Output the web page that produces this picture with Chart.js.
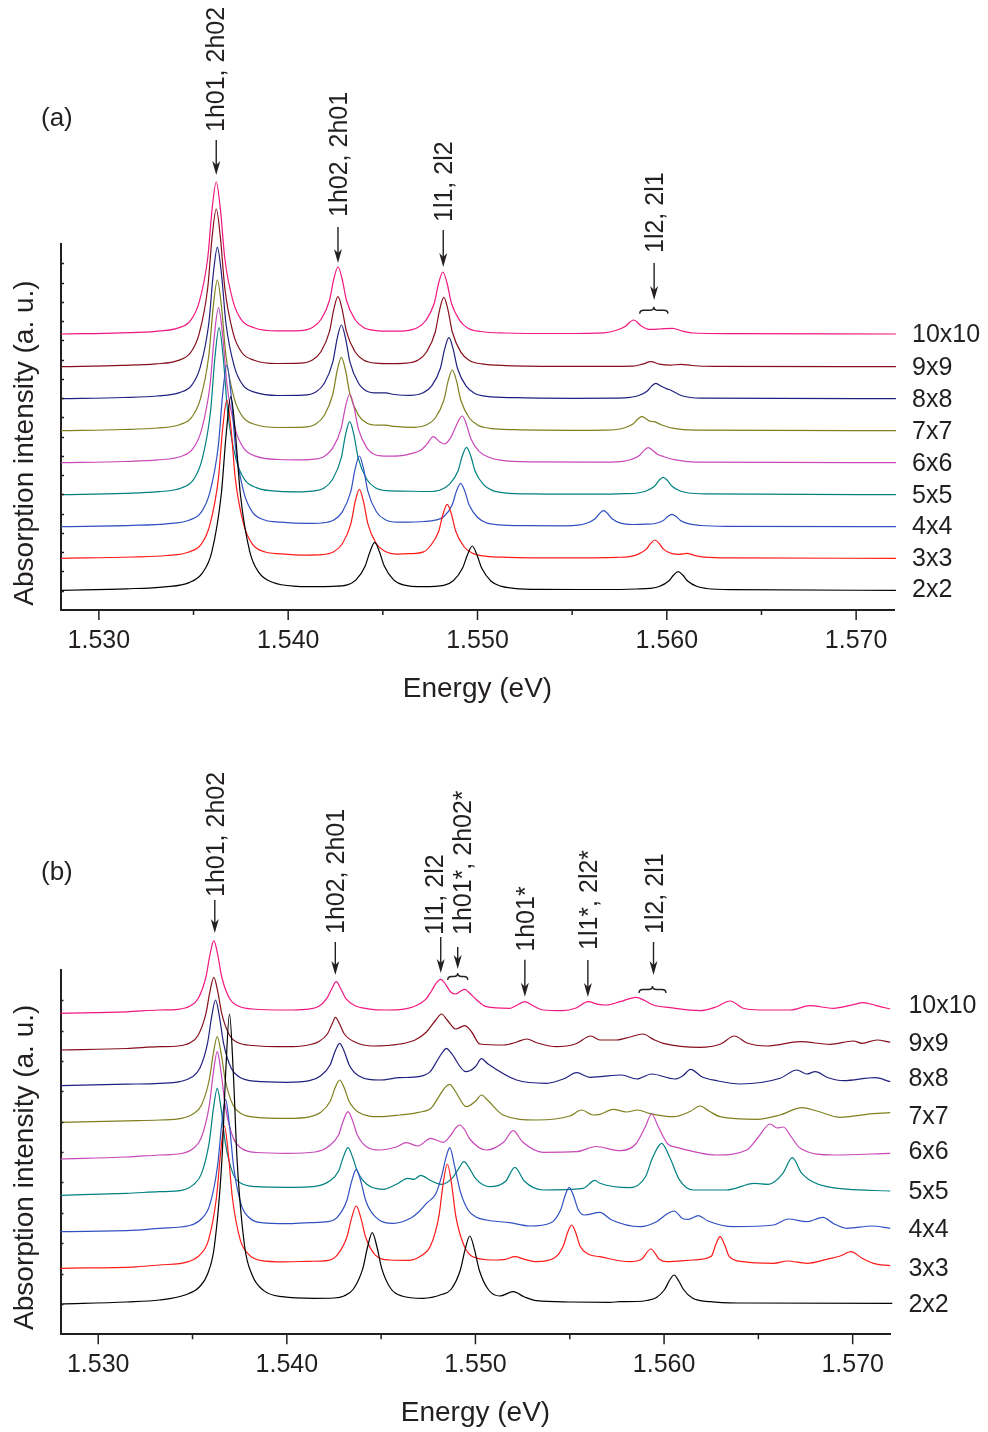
<!DOCTYPE html>
<html>
<head>
<meta charset="utf-8">
<script src="https://cdn.jsdelivr.net/npm/chart.js@4.4.0/dist/chart.umd.min.js"></script>
<style>
  html, body { margin: 0; padding: 0; background: #fff; }
  #wrap { position: relative; width: 988px; height: 1432px; }
  canvas { position: absolute; left: 0; }
</style>
</head>
<body>
<div id="wrap">
  <canvas id="chartA" width="988" height="720" style="top:0px"></canvas>
  <canvas id="chartB" width="988" height="712" style="top:720px"></canvas>
</div>
<script>
// cluster sizes, bottom to top
const sizes = ['2x2', '3x3', '4x4', '5x5', '6x6', '7x7', '8x8', '9x9', '10x10'];
const colors = ['#000000', '#ff1a1a', '#3050c0', '#008080', '#c848b8', '#7f7f20', '#20207f', '#85101c', '#f01880'];

const xTicks = [1.530, 1.540, 1.550, 1.560, 1.570];
const xMinorTicks = [1.535, 1.545, 1.555, 1.565];

// vertical offsets of the stacked spectra (a.u.)
const offsetsA = [19.7, 51.7, 83.3, 115.3, 147.3, 179.3, 211.3, 243.3, 276];
const offsetsB = [30.3, 66, 102.6, 139, 175.3, 212, 248.6, 284.3, 321];

// panel (a): [energy eV, intensity a.u.]
const a2x2 = [[1.52800,0],[1.53147,1.5],[1.53347,3.5],[1.53477,7.7],[1.53547,17.4],[1.53597,38.7],[1.53647,96.8],[1.53672,155],[1.53697,193.6],[1.53722,155],[1.53747,96.8],[1.53797,38.7],[1.53847,17.4],[1.53917,8],[1.54047,4],[1.54150,3.6],[1.54237,4],[1.54307,5.2],[1.54357,10.2],[1.54407,24.4],[1.54432,38.6],[1.54457,48],[1.54482,38.6],[1.54507,24.5],[1.54557,10.5],[1.54607,5.5],[1.54715,3.6],[1.54822,5],[1.54872,9.5],[1.54922,22.5],[1.54947,35.5],[1.54972,44.3],[1.54997,35.5],[1.55022,22.2],[1.55072,9],[1.55122,4.2],[1.55192,2],[1.55320,0.9],[1.55650,0.8],[1.55840,1.3],[1.55910,1.9],[1.55960,3.8],[1.56010,9.3],[1.56035,15],[1.56060,18.6],[1.56085,15],[1.56110,9.3],[1.56160,3.8],[1.56210,1.8],[1.56350,0.6],[1.57210,0]];
const a3x3 = [[1.52800,0],[1.53176,1.3],[1.53356,2.8],[1.53476,6.3],[1.53541,14.2],[1.53586,33.2],[1.53631,79.2],[1.53654,129.8],[1.53676,158.3],[1.53698,129.8],[1.53721,79.2],[1.53766,33.2],[1.53811,14.2],[1.53876,6.5],[1.53960,4.5],[1.54100,3.2],[1.54176,3.6],[1.54241,6.6],[1.54286,14.5],[1.54331,34.5],[1.54354,56.6],[1.54376,69],[1.54398,56.6],[1.54421,34.5],[1.54466,14.5],[1.54511,7],[1.54576,4.2],[1.54640,4.6],[1.54715,6.4],[1.54750,12.3],[1.54795,27],[1.54818,44.3],[1.54840,54],[1.54862,44.3],[1.54885,27],[1.54930,11.3],[1.54975,4.9],[1.55040,2.2],[1.55160,1],[1.55450,0.5],[1.55737,1],[1.55802,1.7],[1.55847,3.9],[1.55892,9.2],[1.55915,15],[1.55937,18.3],[1.55959,15],[1.55982,9.2],[1.56027,4.6],[1.56065,4],[1.56106,5],[1.56145,3],[1.56200,1.2],[1.56350,0.4],[1.57210,0]];
const a4x4 = [[1.52800,0],[1.53176,1.3],[1.53356,2.9],[1.53476,6.5],[1.53541,14.6],[1.53586,34],[1.53631,80.9],[1.53654,132.6],[1.53676,161.7],[1.53698,132.6],[1.53721,80.9],[1.53766,34],[1.53811,14.6],[1.53876,6.7],[1.53960,4.6],[1.54100,3.3],[1.54176,3.7],[1.54241,6.7],[1.54286,14.8],[1.54331,35.4],[1.54354,58],[1.54376,70.7],[1.54398,58],[1.54421,35.4],[1.54466,15],[1.54511,7.2],[1.54576,4.5],[1.54640,4.6],[1.54715,5.2],[1.54776,6.5],[1.54821,10],[1.54866,21.7],[1.54889,35.6],[1.54911,43.4],[1.54933,35.6],[1.54956,21.7],[1.55001,9.2],[1.55046,4],[1.55111,1.9],[1.55250,1],[1.55466,0.9],[1.55531,1.6],[1.55576,3.4],[1.55621,8],[1.55644,13],[1.55666,16],[1.55688,13],[1.55711,8],[1.55756,3.6],[1.55820,2.2],[1.55890,2.5],[1.55937,3.2],[1.55982,6.3],[1.56005,10.2],[1.56027,12.4],[1.56049,10.2],[1.56072,6.3],[1.56117,2.8],[1.56180,1.2],[1.56330,0.4],[1.57210,0]];
const a5x5 = [[1.52800,0],[1.53135,1.3],[1.53315,3],[1.53435,6.7],[1.53500,15],[1.53545,35],[1.53590,83.5],[1.53613,137],[1.53635,167],[1.53657,137],[1.53680,83.5],[1.53725,35],[1.53770,15],[1.53835,6.8],[1.53955,3.3],[1.54050,2.9],[1.54125,3.6],[1.54190,6.8],[1.54235,15.5],[1.54280,36.5],[1.54303,60],[1.54325,73],[1.54347,60],[1.54370,36.5],[1.54415,15.5],[1.54460,7],[1.54525,4],[1.54600,3.6],[1.54742,3.2],[1.54807,5],[1.54852,10.5],[1.54897,23.7],[1.54920,38.9],[1.54942,47.4],[1.54964,38.9],[1.54987,23.7],[1.55032,10],[1.55077,4.3],[1.55142,1.9],[1.55300,0.8],[1.55600,0.5],[1.55781,1],[1.55846,1.7],[1.55891,3.7],[1.55936,8.7],[1.55959,14.3],[1.55981,17.4],[1.56003,14.3],[1.56026,8.7],[1.56071,3.7],[1.56116,1.7],[1.56200,0.8],[1.57210,0]];
const a6x6 = [[1.52800,0],[1.53132,1.2],[1.53312,2.8],[1.53432,6.2],[1.53497,14],[1.53542,32.6],[1.53587,77.5],[1.53610,127],[1.53632,155],[1.53654,127],[1.53677,77.5],[1.53722,32.6],[1.53767,14],[1.53832,6.3],[1.53952,3.2],[1.54050,2.9],[1.54125,3.4],[1.54190,6.3],[1.54235,14.6],[1.54280,34.4],[1.54303,56.3],[1.54325,68.7],[1.54347,56.3],[1.54370,34.4],[1.54415,15],[1.54460,8],[1.54530,6.5],[1.54600,7],[1.54650,9],[1.54700,12.5],[1.54735,19],[1.54766,26],[1.54800,21],[1.54825,18.7],[1.54855,24],[1.54885,36],[1.54902,43],[1.54920,46.7],[1.54942,38],[1.54965,24],[1.55010,11],[1.55060,5.5],[1.55120,2.5],[1.55300,0.8],[1.55700,0.5],[1.55767,1.3],[1.55812,3.2],[1.55857,7.5],[1.55880,12.3],[1.55902,15],[1.55925,12.5],[1.55950,8.5],[1.55985,6],[1.56040,3],[1.56150,0.6],[1.57210,0]];
const a7x7 = [[1.52800,0],[1.53126,1.2],[1.53306,2.7],[1.53426,6],[1.53491,13.6],[1.53536,31.6],[1.53581,75.4],[1.53604,123.6],[1.53626,150.7],[1.53648,123.6],[1.53671,75.4],[1.53716,31.6],[1.53761,13.6],[1.53826,6.2],[1.53946,3.2],[1.54081,3.6],[1.54146,6.8],[1.54191,15.4],[1.54236,36.7],[1.54259,60.2],[1.54281,73.4],[1.54303,60.2],[1.54326,36.7],[1.54371,15.6],[1.54416,7.5],[1.54470,5.6],[1.54514,5.6],[1.54560,4.3],[1.54667,3.3],[1.54732,5.9],[1.54777,12.7],[1.54822,30.4],[1.54845,49.8],[1.54867,60.7],[1.54889,49.8],[1.54912,30.4],[1.54957,12.7],[1.55002,5.5],[1.55067,2.4],[1.55200,1],[1.55500,0.4],[1.55670,0.6],[1.55733,1.2],[1.55778,2.9],[1.55823,7],[1.55846,11.5],[1.55868,14],[1.55890,12],[1.55910,9.5],[1.55932,9],[1.55970,6],[1.56030,2.5],[1.56150,0.5],[1.57210,0]];
const a8x8 = [[1.52800,0],[1.53126,1.2],[1.53306,2.7],[1.53426,6.1],[1.53491,13.6],[1.53536,31.8],[1.53581,75.7],[1.53604,124.1],[1.53626,151.4],[1.53648,124.1],[1.53671,75.7],[1.53716,31.8],[1.53761,13.6],[1.53826,6.3],[1.53946,3.2],[1.54081,3.6],[1.54146,6.8],[1.54191,15.5],[1.54236,36.9],[1.54259,60.4],[1.54281,73.7],[1.54303,60.4],[1.54326,36.9],[1.54371,15.7],[1.54416,7.5],[1.54470,5.8],[1.54514,5.8],[1.54560,4.2],[1.54649,3.3],[1.54714,6],[1.54759,13],[1.54804,30.5],[1.54827,50],[1.54849,61],[1.54871,50],[1.54894,30.5],[1.54939,12.8],[1.54984,5.5],[1.55049,2.4],[1.55200,1],[1.55500,0.4],[1.55740,0.6],[1.55807,1.4],[1.55852,3.2],[1.55897,7.7],[1.55920,12.6],[1.55942,15.4],[1.55970,12.5],[1.56000,9.8],[1.56021,8.5],[1.56080,3],[1.56180,0.6],[1.57210,0]];
const a9x9 = [[1.52800,0],[1.53120,1.3],[1.53300,2.8],[1.53420,6.3],[1.53485,14.2],[1.53530,33.1],[1.53575,78.9],[1.53598,129.3],[1.53620,157.7],[1.53642,129.3],[1.53665,78.9],[1.53710,33.1],[1.53755,14.2],[1.53820,6.5],[1.53940,3.2],[1.54063,3.6],[1.54128,6.8],[1.54173,15],[1.54218,35],[1.54241,57.4],[1.54263,70],[1.54285,57.4],[1.54308,35],[1.54353,15],[1.54398,6.8],[1.54463,3.5],[1.54540,3],[1.54622,3.5],[1.54687,6.8],[1.54732,15],[1.54777,34.7],[1.54800,56.9],[1.54822,69.4],[1.54844,56.9],[1.54867,34.7],[1.54912,14.6],[1.54957,6.2],[1.55022,2.8],[1.55150,1.1],[1.55500,0.3],[1.55820,0.6],[1.55871,2.5],[1.55916,5],[1.55961,2.5],[1.56020,1.5],[1.56075,2.4],[1.56130,1.2],[1.56250,0.3],[1.57210,0]];
const a10x10 = [[1.52800,0],[1.53120,1.2],[1.53300,2.7],[1.53420,6.1],[1.53485,13.7],[1.53530,31.9],[1.53575,76],[1.53598,124.6],[1.53620,152],[1.53642,124.6],[1.53665,76],[1.53710,31.9],[1.53755,13.7],[1.53820,6.3],[1.53940,3.1],[1.54063,3.4],[1.54128,6.5],[1.54173,14.5],[1.54218,33.5],[1.54241,55],[1.54263,67],[1.54285,55],[1.54308,33.5],[1.54353,14.5],[1.54398,6.5],[1.54463,3.4],[1.54540,2.8],[1.54617,3.2],[1.54682,6.2],[1.54727,13.5],[1.54772,31],[1.54795,51],[1.54817,62],[1.54839,51],[1.54862,31],[1.54907,13.2],[1.54952,5.6],[1.55017,2.5],[1.55140,1],[1.55450,0.5],[1.55670,1.2],[1.55730,3.5],[1.55780,7.5],[1.55824,14],[1.55865,8],[1.55905,4.7],[1.55960,5],[1.56031,5.7],[1.56080,3],[1.56140,1],[1.56350,0.3],[1.57210,0]];

// panel (b): [energy eV, intensity a.u.]
const b2x2 = [[1.52800,0],[1.53150,2],[1.53324,4],[1.53460,9],[1.53536,17],[1.53580,30],[1.53616,58],[1.53656,145],[1.53676,232],[1.53696,290],[1.53716,232],[1.53736,145],[1.53776,58],[1.53816,29],[1.53876,13.6],[1.53976,7.3],[1.54146,5.7],[1.54250,6],[1.54303,8],[1.54353,15],[1.54403,35.7],[1.54428,57],[1.54453,71.3],[1.54478,57],[1.54503,35.7],[1.54553,15],[1.54610,8],[1.54722,5.7],[1.54820,9.5],[1.54870,14.5],[1.54920,34],[1.54945,54.4],[1.54970,68],[1.54995,54.4],[1.55020,34],[1.55070,14],[1.55129,8],[1.55200,12.3],[1.55260,7],[1.55324,3.3],[1.55500,2],[1.55713,1.7],[1.55766,2.3],[1.55850,2.5],[1.55910,3.5],[1.55960,6.5],[1.56003,14.5],[1.56030,24],[1.56053,29],[1.56078,23],[1.56103,14.5],[1.56150,6],[1.56244,2.3],[1.56400,1],[1.57210,0.7]];
const b3x3 = [[1.52800,0],[1.53200,1.5],[1.53324,3.3],[1.53479,6.7],[1.53543,14.2],[1.53585,28.5],[1.53627,71],[1.53648,114],[1.53669,142.3],[1.53690,114],[1.53711,71],[1.53753,28.5],[1.53795,14.5],[1.53859,8],[1.53990,6.5],[1.54120,7],[1.54220,8],[1.54268,13.5],[1.54318,31],[1.54343,50],[1.54368,62.3],[1.54393,50],[1.54418,31],[1.54468,13.5],[1.54545,8.3],[1.54650,8],[1.54716,13],[1.54761,22],[1.54806,52],[1.54829,85],[1.54851,104.3],[1.54873,85],[1.54896,52],[1.54941,22],[1.54986,11.5],[1.55093,8.3],[1.55160,9],[1.55209,11.6],[1.55260,9],[1.55324,6.6],[1.55420,10.5],[1.55465,22],[1.55488,35.5],[1.55510,43.3],[1.55532,35.5],[1.55555,22],[1.55600,14],[1.55660,11.6],[1.55819,6.6],[1.55880,9],[1.55930,19.3],[1.55975,9],[1.56014,6.6],[1.56155,8.3],[1.56250,12],[1.56275,24],[1.56297,31.6],[1.56320,24],[1.56345,12],[1.56420,6.6],[1.56580,5],[1.56656,7.3],[1.56757,5],[1.56863,9],[1.56930,12],[1.56992,16.6],[1.57050,10],[1.57110,5],[1.57199,2.6]];
const b4x4 = [[1.52800,0],[1.53200,1.5],[1.53324,3.4],[1.53485,6.2],[1.53549,13.2],[1.53591,26.5],[1.53633,66.2],[1.53654,106],[1.53675,132.4],[1.53696,106],[1.53717,66.2],[1.53759,26.5],[1.53801,14],[1.53865,9],[1.54000,8],[1.54120,9],[1.54220,10],[1.54268,14.5],[1.54318,31.2],[1.54343,50],[1.54368,62.4],[1.54393,50],[1.54418,31.2],[1.54468,15],[1.54563,8.4],[1.54660,14],[1.54700,20],[1.54740,28.4],[1.54790,38],[1.54820,55],[1.54845,75],[1.54864,84],[1.54890,65],[1.54920,40],[1.54960,22],[1.55000,15],[1.55058,11.7],[1.55182,9],[1.55288,5.7],[1.55400,9],[1.55452,22],[1.55475,36],[1.55497,44.4],[1.55520,36],[1.55545,22],[1.55580,16.7],[1.55660,19.4],[1.55720,12],[1.55872,5],[1.55960,10],[1.56010,17],[1.56053,20.7],[1.56100,13],[1.56128,12.4],[1.56182,16],[1.56230,11],[1.56367,5],[1.56580,6.7],[1.56659,12.7],[1.56757,10],[1.56842,14.4],[1.56900,8],[1.56969,3.4],[1.57102,5.7],[1.57199,3.4]];
const b5x5 = [[1.52800,0],[1.53150,2],[1.53324,3.6],[1.53441,5],[1.53505,10.7],[1.53547,21.4],[1.53589,53.5],[1.53610,85.6],[1.53631,107],[1.53652,85.6],[1.53673,53.5],[1.53715,21.4],[1.53757,12],[1.53840,8.6],[1.54000,8],[1.54150,9],[1.54224,14],[1.54274,24],[1.54299,38],[1.54324,47.6],[1.54349,38],[1.54374,24],[1.54424,11],[1.54510,6],[1.54580,11],[1.54642,17],[1.54676,16],[1.54710,20],[1.54760,15],[1.54820,11],[1.54880,18],[1.54915,28],[1.54939,33.6],[1.54965,28],[1.55000,17],[1.55076,8.6],[1.55160,14],[1.55209,28],[1.55260,14],[1.55359,5.3],[1.55571,7],[1.55633,15],[1.55660,12],[1.55819,7.6],[1.55900,18],[1.55940,38],[1.55987,52],[1.56030,38],[1.56080,16],[1.56155,5.3],[1.56332,5.3],[1.56479,12],[1.56553,11],[1.56630,22],[1.56680,37.6],[1.56730,22],[1.56863,8.6],[1.57199,4.3]];
const b6x6 = [[1.52800,0],[1.53150,2],[1.53324,4],[1.53441,5.5],[1.53505,10.7],[1.53547,21.5],[1.53589,53.7],[1.53610,85.8],[1.53631,107.3],[1.53652,85.8],[1.53673,53.7],[1.53715,21.5],[1.53757,11],[1.53840,6.5],[1.54000,5.7],[1.54150,7],[1.54224,13],[1.54274,24],[1.54299,38],[1.54324,47.3],[1.54349,38],[1.54374,24],[1.54424,12],[1.54492,9],[1.54580,12],[1.54634,16.3],[1.54695,13],[1.54763,20.7],[1.54828,16.7],[1.54870,24],[1.54895,31],[1.54917,34],[1.54940,30],[1.54970,20],[1.55058,9],[1.55150,17],[1.55200,28.3],[1.55250,17],[1.55359,6.7],[1.55536,7.3],[1.55640,12.5],[1.55766,8.3],[1.55850,15],[1.55900,32],[1.55934,45],[1.55970,32],[1.56020,15],[1.56067,11.7],[1.56279,4],[1.56438,9],[1.56500,22],[1.56562,35],[1.56600,31],[1.56633,32],[1.56675,22],[1.56722,10.7],[1.56898,4],[1.57199,5.7]];
const b7x7 = [[1.52800,0],[1.53150,1.5],[1.53324,2.3],[1.53441,4],[1.53505,8.6],[1.53547,17.1],[1.53589,42.8],[1.53610,68.5],[1.53631,85.6],[1.53652,68.5],[1.53673,42.8],[1.53715,17.1],[1.53757,8.8],[1.53840,5],[1.54000,4],[1.54120,5.5],[1.54180,10],[1.54230,21],[1.54255,34],[1.54280,42.3],[1.54305,34],[1.54330,21],[1.54380,10],[1.54492,5.6],[1.54598,7.3],[1.54700,10],[1.54764,14],[1.54810,27],[1.54839,35],[1.54864,38],[1.54890,32],[1.54952,15.6],[1.55000,21],[1.55032,27.3],[1.55065,22],[1.55146,7.3],[1.55324,2.3],[1.55500,6.3],[1.55563,12.3],[1.55624,7.3],[1.55660,8],[1.55730,13],[1.55801,10.3],[1.55860,12.3],[1.55920,9],[1.56049,5.6],[1.56140,11],[1.56190,16.3],[1.56240,11],[1.56297,5.6],[1.56492,3],[1.56615,7.3],[1.56730,14.6],[1.56810,11.3],[1.56934,5],[1.57075,8],[1.57199,9.6]];
const b8x8 = [[1.52800,0],[1.53150,1.5],[1.53324,2.4],[1.53432,4],[1.53496,8.6],[1.53538,17.1],[1.53580,42.9],[1.53601,68.6],[1.53622,85.7],[1.53643,68.6],[1.53664,42.9],[1.53706,17.1],[1.53748,8.8],[1.53830,4.5],[1.54000,3.4],[1.54120,5],[1.54180,10],[1.54230,21],[1.54255,34],[1.54280,42.4],[1.54305,34],[1.54330,21],[1.54380,10],[1.54492,5.7],[1.54598,8],[1.54700,9],[1.54760,14],[1.54800,26],[1.54824,33],[1.54846,37.4],[1.54870,33],[1.54949,14],[1.55000,19],[1.55032,27],[1.55065,22],[1.55218,5.7],[1.55377,2.4],[1.55470,7],[1.55536,13],[1.55607,8.4],[1.55660,9],[1.55775,10.7],[1.55855,6.7],[1.55934,11.7],[1.56058,6.7],[1.56100,10],[1.56141,16.4],[1.56200,9],[1.56279,5],[1.56403,1.7],[1.56615,7.4],[1.56704,15.7],[1.56757,11.7],[1.56801,14],[1.56870,8],[1.56951,5],[1.57119,8],[1.57199,4]];
const b9x9 = [[1.52800,0],[1.53150,1.5],[1.53324,3.3],[1.53423,4],[1.53487,7.3],[1.53529,14.5],[1.53571,36.4],[1.53592,58.2],[1.53613,72.7],[1.53634,58.2],[1.53655,36.4],[1.53697,14.5],[1.53739,7.5],[1.53820,4.5],[1.54000,3.3],[1.54100,4.5],[1.54170,8.5],[1.54215,16],[1.54240,26],[1.54258,32.7],[1.54280,26],[1.54305,16],[1.54360,8],[1.54459,4],[1.54600,6],[1.54680,10],[1.54740,18],[1.54790,30],[1.54820,36],[1.54850,30],[1.54895,21],[1.54943,24.3],[1.54980,18],[1.55023,6],[1.55150,5],[1.55220,8],[1.55271,11],[1.55330,7],[1.55430,3.3],[1.55530,6],[1.55612,14],[1.55660,10],[1.55748,10],[1.55820,13],[1.55886,16],[1.55950,10],[1.55996,6.7],[1.56190,2.7],[1.56300,6],[1.56373,14],[1.56440,7],[1.56545,4],[1.56722,8.3],[1.56881,5.7],[1.57003,9],[1.57050,6.7],[1.57128,10],[1.57199,7.7]];
const b10x10 = [[1.52800,0],[1.53150,1.5],[1.53324,3.3],[1.53423,4],[1.53487,7.3],[1.53529,14.5],[1.53571,36.3],[1.53592,58.1],[1.53613,72.6],[1.53634,58.1],[1.53655,36.3],[1.53697,14.5],[1.53739,7.5],[1.53820,4.3],[1.54000,3.3],[1.54100,4],[1.54170,7],[1.54212,15],[1.54237,24],[1.54262,31.6],[1.54287,24],[1.54312,15],[1.54362,7.5],[1.54430,4.5],[1.54525,3.3],[1.54630,4.5],[1.54690,8],[1.54736,14],[1.54766,22],[1.54791,30],[1.54816,34],[1.54845,28],[1.54870,21],[1.54895,19.3],[1.54920,22],[1.54943,24],[1.54970,20],[1.55000,14.5],[1.55058,6.6],[1.55182,5],[1.55210,7],[1.55262,11.6],[1.55310,7],[1.55359,3.3],[1.55463,2.6],[1.55530,5],[1.55598,11.6],[1.55650,9],[1.55695,8.3],[1.55766,11.6],[1.55851,16],[1.55900,12.5],[1.55943,8.3],[1.56031,5.6],[1.56190,2.6],[1.56279,6.6],[1.56350,12.3],[1.56420,5],[1.56509,3.3],[1.56668,3.3],[1.56774,7.6],[1.56898,5],[1.57000,8.5],[1.57057,10.6],[1.57120,8],[1.57199,4.3]];

// peak assignments (arrow tip energy and height in a.u.)
const annoTextA = ['1h01, 2h02', '1h02, 2h01', '1l1, 2l2', '1l2, 2l1'];
const annoEnergyA = [1.53620, 1.54263, 1.54819, 1.55933];
const annoTipA = [435, 347, 343, 310];
const braceFromA = [1.55857], braceToA = [1.56006], braceTopA = [303.3];

const annoTextB = ['1h01, 2h02', '1h02, 2h01', '1l1, 2l2', '1h01*, 2h02*', '1h01*', '1l1*, 2l2*', '1l2, 2l1'];
const annoEnergyB = [1.53618, 1.54257, 1.54816, 1.54906, 1.55262, 1.55596, 1.55944];
const annoTipB = [401.3, 359.3, 361.3, 365.3, 337.6, 337.3, 359.3];
const braceFromB = [1.54853, 1.55867], braceToB = [1.54959, 1.56010], braceTopB = [361.3, 348.3];

const INK = '#231f20';
const FONT = '"Liberation Sans", Arial, Helvetica, sans-serif';
Chart.defaults.font.family = FONT;
Chart.defaults.color = INK;

function arrow(ctx, x, yTail, yTip) {
  ctx.beginPath();
  ctx.moveTo(x, yTail);
  ctx.lineTo(x, yTip - 9);
  ctx.stroke();
  ctx.beginPath();
  ctx.moveTo(x, yTip);
  ctx.lineTo(x - 4, yTip - 14);
  ctx.lineTo(x, yTip - 10);
  ctx.lineTo(x + 4, yTip - 14);
  ctx.closePath();
  ctx.fill();
}

function brace(ctx, x1, x2, yTop, yEnd) {
  const xm = (x1 + x2) / 2, ym = (yTop + yEnd) / 2;
  ctx.beginPath();
  ctx.moveTo(x1, yEnd);
  ctx.quadraticCurveTo(x1, ym, x1 + 4, ym);
  ctx.lineTo(xm - 4, ym);
  ctx.quadraticCurveTo(xm, ym, xm, yTop);
  ctx.quadraticCurveTo(xm, ym, xm + 4, ym);
  ctx.lineTo(x2 - 4, ym);
  ctx.quadraticCurveTo(x2, ym, x2, yEnd);
  ctx.stroke();
}

function vtext(ctx, str, xBase, yStart) {
  ctx.save();
  ctx.translate(xBase, yStart);
  ctx.rotate(-Math.PI / 2);
  ctx.fillText(str, 0, 0);
  ctx.restore();
}

function makeDecor(p) {
  return {
    id: 'decor',
    afterDraw(chart) {
      const { ctx, chartArea: ca } = chart;
      const xs = chart.scales.x, ys = chart.scales.y;
      ctx.save();
      ctx.strokeStyle = INK;
      ctx.fillStyle = INK;
      ctx.lineWidth = 1.5;

      // x ticks (outside), y ticks (inside)
      ctx.beginPath();
      xTicks.forEach(v => { const px = xs.getPixelForValue(v); ctx.moveTo(px, ca.bottom); ctx.lineTo(px, ca.bottom + 10); });
      xMinorTicks.forEach(v => { const px = xs.getPixelForValue(v); ctx.moveTo(px, ca.bottom); ctx.lineTo(px, ca.bottom + 5); });
      for (let k = 1; k * p.yStep < p.yMax - 2; k++) {
        const py = Math.round(ys.getPixelForValue(k * p.yStep)) + 0.5;
        ctx.moveTo(ca.left, py); ctx.lineTo(ca.left + 3, py);
      }
      ctx.stroke();

      // axis titles
      ctx.font = '28px ' + FONT;
      ctx.textAlign = 'center';
      ctx.textBaseline = 'middle';
      ctx.fillText('Energy (eV)', (ca.left + ca.right) / 2, ca.bottom + 79);
      ctx.textBaseline = 'alphabetic';
      vtext(ctx, 'Absorption intensity (a. u.)', 33, ca.bottom - 167);

      // curve labels at the right end of each trace
      ctx.font = '25px ' + FONT;
      ctx.textAlign = 'left';
      ctx.textBaseline = 'middle';
      p.spectra.forEach((s, i) => {
        const last = s[s.length - 1][1] + p.offsets[i];
        ctx.fillText(sizes[i], ca.right + 18, ys.getPixelForValue(last) + 1 + p.labelDy[i]);
      });

      // panel letter
      ctx.font = '26px ' + FONT;
      ctx.fillText(p.letter, p.letterPos[0], p.letterPos[1]);

      // peak assignments
      ctx.font = '25px ' + FONT;
      ctx.textAlign = 'left';
      ctx.textBaseline = 'alphabetic';
      ctx.lineWidth = 1.4;
      p.annText.forEach((t, i) => {
        const x = xs.getPixelForValue(p.annEnergy[i]);
        const tip = ys.getPixelForValue(p.annTip[i]);
        const tail = tip - p.annLen[i];
        arrow(ctx, x, tail, tip);
        vtext(ctx, t, x + p.annDx[i] + 9, tail - p.annGap[i]);
      });
      p.braceFrom.forEach((b, i) => {
        const top = ys.getPixelForValue(p.braceTop[i]);
        brace(ctx, xs.getPixelForValue(b), xs.getPixelForValue(p.braceTo[i]), top, top + 7);
      });
      ctx.restore();
    }
  };
}

function makeChart(id, p) {
  const datasets = p.spectra.map((s, i) => ({
    label: sizes[i],
    data: s.map(pt => ({ x: pt[0], y: pt[1] + p.offsets[i] })),
    borderColor: colors[i],
    borderWidth: 1.2,
    pointRadius: 0,
    fill: false,
    cubicInterpolationMode: 'monotone',
    clip: false
  }));
  return new Chart(document.getElementById(id), {
    type: 'line',
    data: { datasets },
    options: {
      responsive: false,
      animation: false,
      devicePixelRatio: 1,
      layout: { padding: p.padding },
      plugins: { legend: { display: false }, tooltip: { enabled: false } },
      scales: {
        x: {
          type: 'linear',
          min: 1.528,
          max: 1.572,
          afterBuildTicks: s => { s.ticks = xTicks.map(v => ({ value: v })); },
          afterFit: s => { s.height = p.xAxisHeight; },
          ticks: { font: { size: 25 }, color: INK, padding: 6, maxRotation: 0, autoSkip: false, callback: v => Number(v).toFixed(3) },
          grid: { display: true, drawOnChartArea: false, drawTicks: true, tickLength: 10, color: 'rgba(0,0,0,0)' },
          border: { display: true, color: INK, width: 2 }
        },
        y: {
          type: 'linear',
          min: 0,
          max: p.yMax,
          afterFit: s => { s.width = 0; },
          ticks: { display: false },
          grid: { display: false },
          border: { display: true, color: INK, width: 2 }
        }
      }
    },
    plugins: [makeDecor(p)]
  });
}

makeChart('chartA', {
  spectra: [a2x2, a3x3, a4x4, a5x5, a6x6, a7x7, a8x8, a9x9, a10x10],
  offsets: offsetsA,
  yMax: 366, yStep: 19.26,
  padding: { left: 61, top: 244, right: 94, bottom: 0 },
  xAxisHeight: 110,
  labelDy: [-1, 0, -1, 0, 0, 0, 0, 0, 0],
  letter: '(a)', letterPos: [41, 119],
  annText: annoTextA, annEnergy: annoEnergyA, annTip: annoTipA,
  annLen: [35, 36, 37, 37], annGap: [8, 10, 8, 10], annDx: [-1, 0, 0, 0],
  braceFrom: braceFromA, braceTo: braceToA, braceTop: braceTopA
});

makeChart('chartB', {
  spectra: [b2x2, b3x3, b4x4, b5x5, b6x6, b7x7, b8x8, b9x9, b10x10],
  offsets: offsetsB,
  yMax: 364.3, yStep: 30.36,
  padding: { left: 60.5, top: 250, right: 97.6, bottom: 0 },
  xAxisHeight: 97.7,
  labelDy: [1, 2, 1, 0, -2, 3, -4, 1, -4],
  letter: '(b)', letterPos: [41, 153],
  annText: annoTextB, annEnergy: annoEnergyB, annTip: annoTipB,
  annLen: [33, 33, 36, 22, 37, 37, 33], annGap: [3, 8, 2, 12, 8, 10, 8], annDx: [0, 0, -7, 4, 0, 0, 0],
  braceFrom: braceFromB, braceTo: braceToB, braceTop: braceTopB
});
</script>
</body>
</html>
